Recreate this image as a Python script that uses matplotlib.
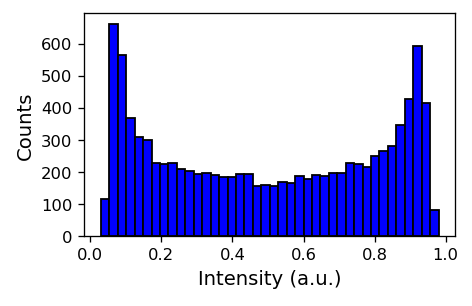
import numpy as np
import matplotlib
matplotlib.use("Agg")
import matplotlib.pyplot as plt

# histogram range and bin counts
bin_start = 0.03
bin_stop = 0.98
counts = [117, 662, 564, 367, 308, 300, 228, 224, 227, 209,
          204, 192, 197, 190, 184, 184, 194, 194, 157, 160,
          157, 169, 166, 186, 178, 191, 187, 196, 197, 228,
          224, 215, 250, 264, 282, 346, 426, 593, 414, 82]
x_ticks = [0.0, 0.2, 0.4, 0.6, 0.8, 1.0]
y_ticks = [0, 100, 200, 300, 400, 500, 600]


def plot_hist(counts):
    edges = np.linspace(bin_start, bin_stop, len(counts) + 1)
    fig = plt.figure(figsize=(4.0, 2.6), dpi=118)
    ax = fig.add_subplot(111)
    ax.hist(edges[:-1], bins=edges, weights=counts,
            color='blue', edgecolor='black', linewidth=1.1)
    ax.set_xlabel('Intensity (a.u.)', fontsize=12)
    ax.set_ylabel('Counts', fontsize=12)
    ax.set_xticks(x_ticks)
    ax.set_yticks(y_ticks)
    fig.subplots_adjust(left=0.178, right=0.965, top=0.955, bottom=0.228)
    fig.savefig('out.png', dpi=118)


if __name__ == "__main__":
    plot_hist(counts)
